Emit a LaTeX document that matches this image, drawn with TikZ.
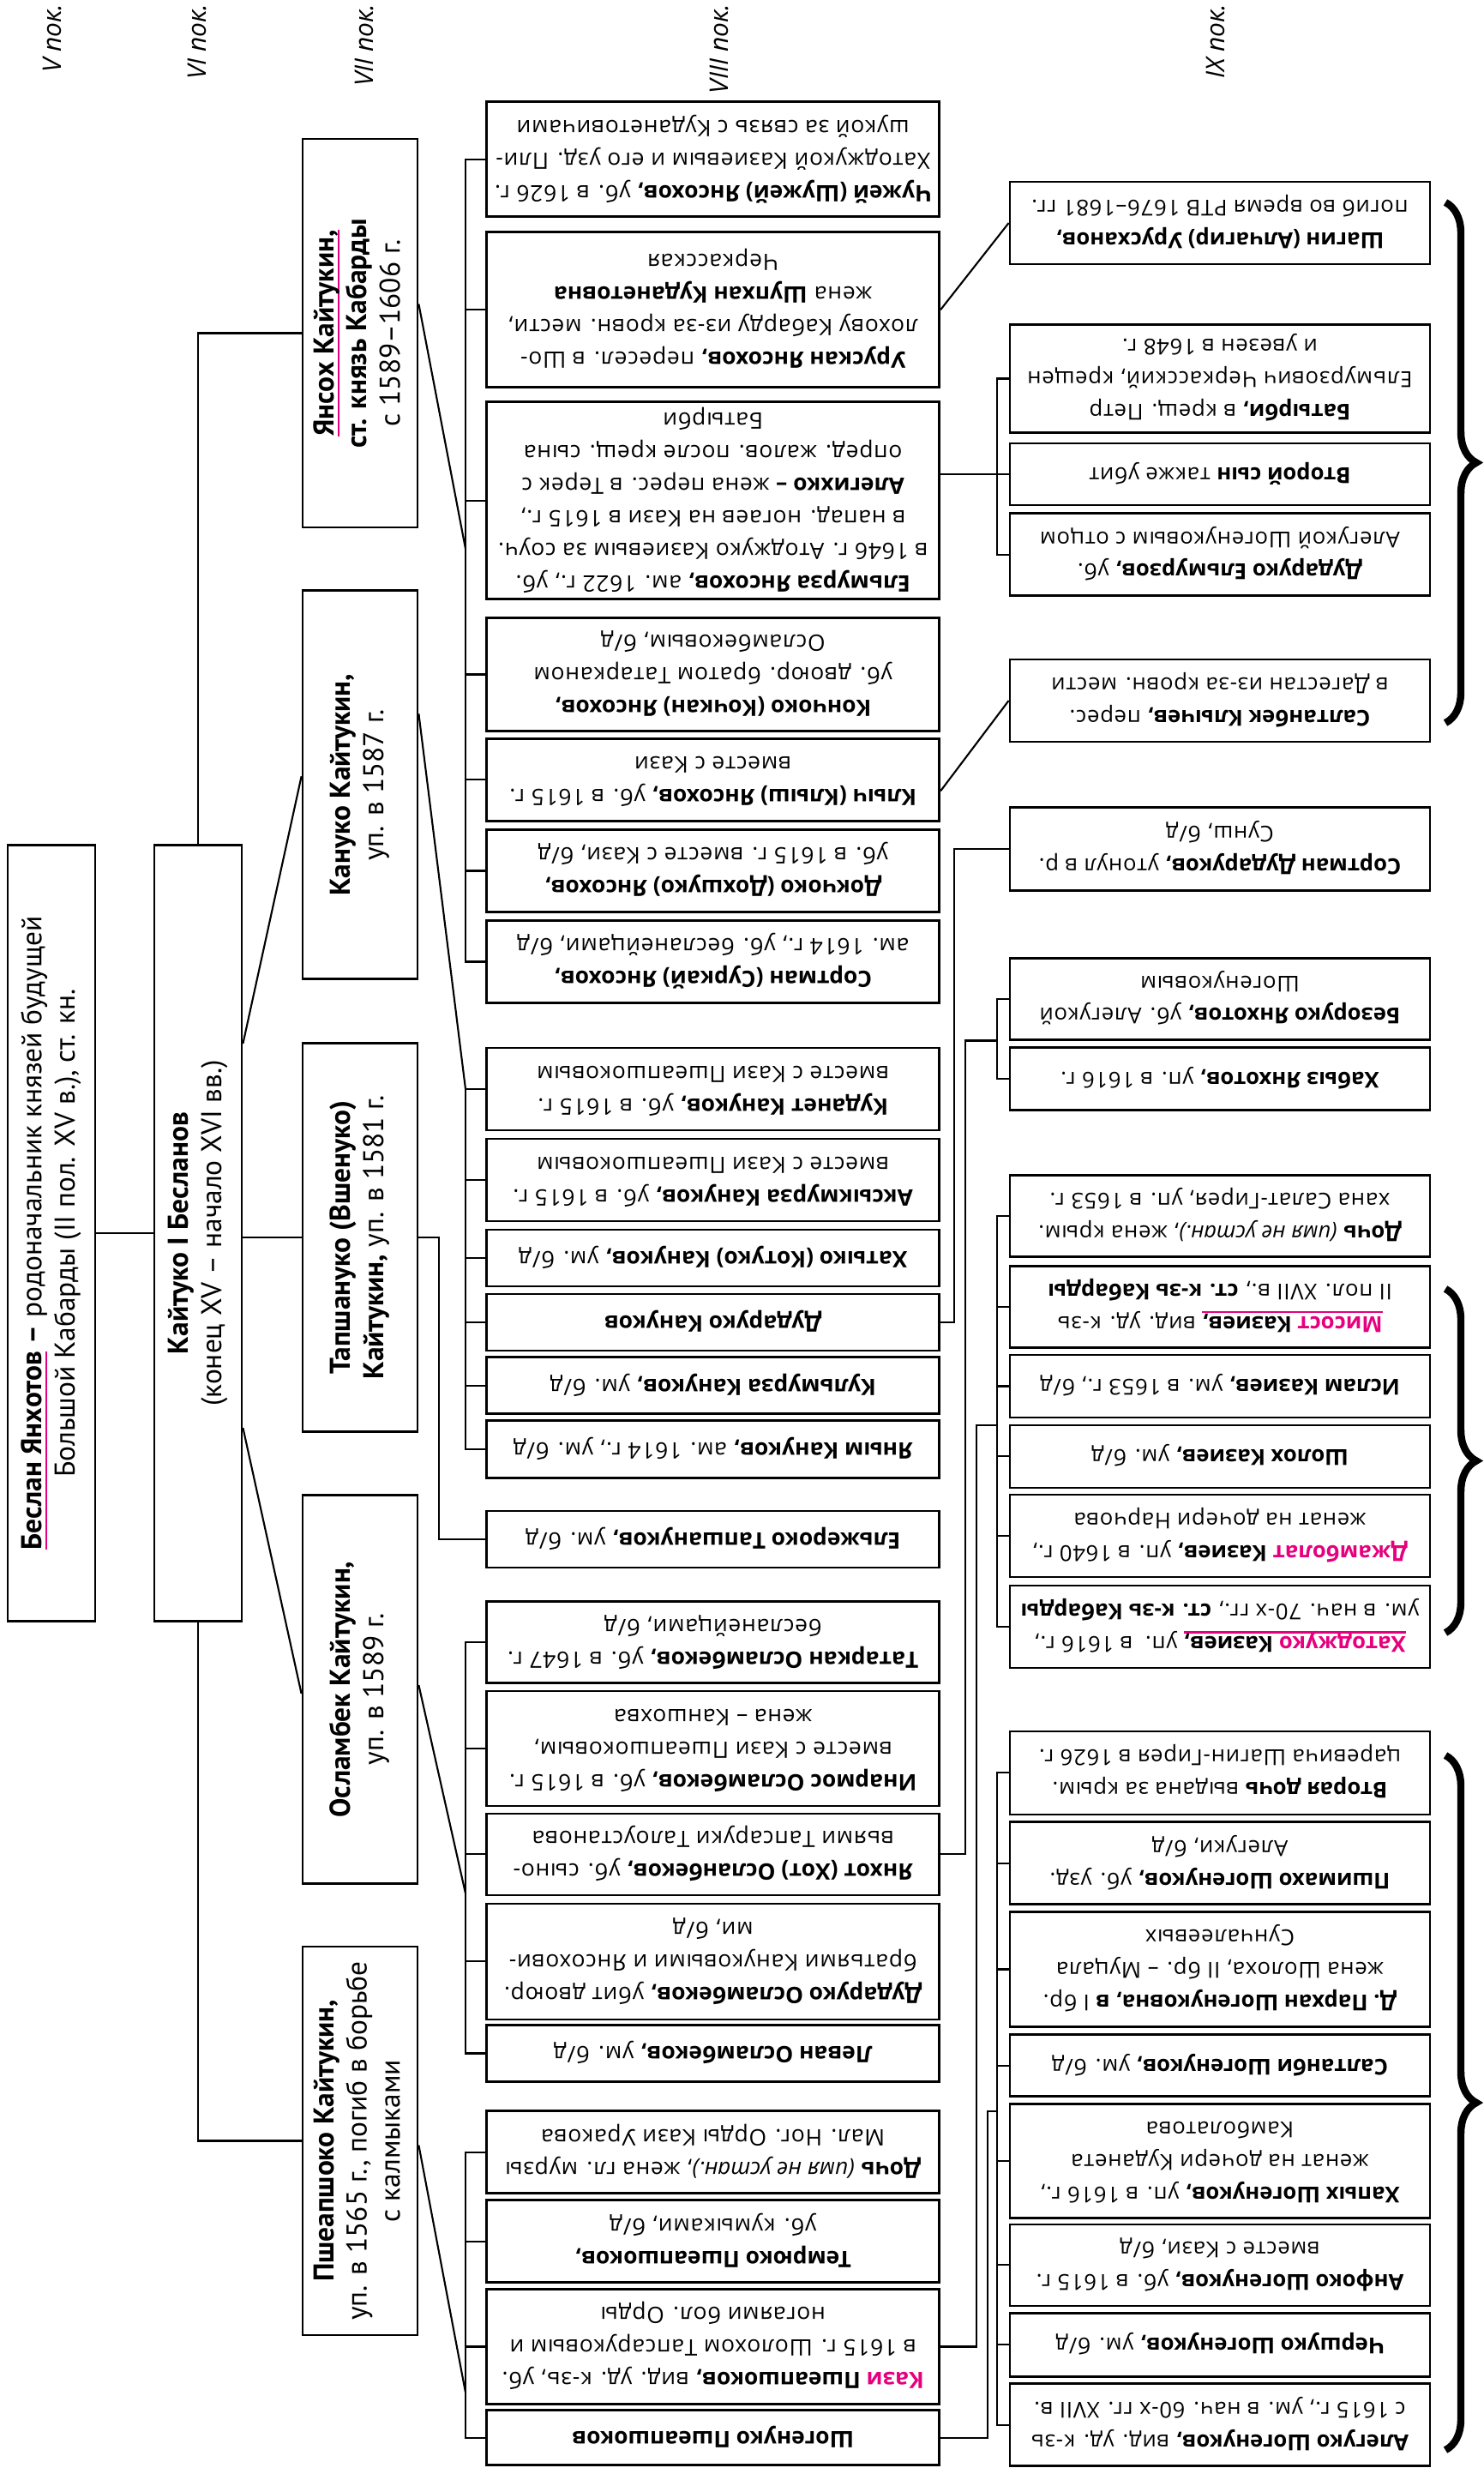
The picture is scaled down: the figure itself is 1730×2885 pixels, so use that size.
\documentclass[tikz,border=0pt]{standalone}
\usepackage{fontspec}
\setmainfont{Open Sans}[UprightFeatures={LetterSpace=3}]
\newfontfamily\condfont{PT Sans}
\usepackage{graphicx}
\usepackage{xcolor}
\usetikzlibrary{decorations.pathreplacing}
\definecolor{kpink}{RGB}{230,0,126}

\newcommand{\pink}[1]{\textcolor{kpink}{#1}}
\newcommand{\pul}[2][2pt]{\setbox0\hbox{#2}\rlap{\color{kpink}\rule[-#1]{\wd0}{0.7pt}}\box0}
\newcommand{\flip}[1]{\rotatebox{180}{\begin{tabular}{@{}c@{}}#1\end{tabular}}}
\newcommand{\turn}[1]{\rotatebox{90}{\begin{tabular}{@{}c@{}}#1\end{tabular}}}

\begin{document}
\begin{tikzpicture}[x=0.1mm, y=-0.1mm]

  \tikzset{
    every node/.style={inner sep=0pt},
    box8/.style={draw, line width=0.8pt, minimum width=52.8mm, font=\fontsize{7.5}{10.8}\selectfont},
    box9/.style={box8, minimum width=49mm, font=\fontsize{7.3}{10.8}\selectfont},
    box7/.style={draw, line width=0.8pt, minimum width=13.4mm, minimum height=45.3mm, font=\condfont\fontsize{9.5}{11}\selectfont},
    rootbox/.style={box7, minimum width=10.2mm, minimum height=90.5mm},
    genlbl/.style={anchor=north, font=\itshape\fontsize{8.5}{9}\selectfont},
    conn/.style={draw, line width=0.6pt},
    brc/.style={decorate, decoration={brace, amplitude=3.6mm}, line width=2.4pt}
  }
  \useasboundingbox (0,0) rectangle (1730,2885);

  % generations
  \node[genlbl] (g5) at (61,4) {\rotatebox{90}{V пок.}};
  \node[genlbl] (g6) at (230,4) {\rotatebox{90}{VI пок.}};
  \node[genlbl] (g7) at (425,4) {\rotatebox{90}{VII пок.}};
  \node[genlbl] (g8) at (839,4) {\rotatebox{90}{VIII пок.}};
  \node[genlbl] (g9) at (1418,4) {\rotatebox{90}{IX пок.}};

  % V, VI
  \node[rootbox] (besl) at (60,1438) {\turn{\pul{\textbf{Беслан Янхотов}}\textbf{ –} родоначальник князей будущей\\Большой Кабарды (II пол. XV в.), ст. кн.}};
  \node[rootbox] (kajt) at (231,1438) {\turn{\textbf{Кайтуко I Бесланов}\\(конец XV – начало XVI вв.)}};

  % VII
  \node[box7] (jans) at (420,388.5) {\turn{\pul{\textbf{Янсох Кайтукин,}}\\\textbf{ст. князь Кабарды}\\с 1589–1606 г.}};
  \node[box7] (kanu) at (420,915.3) {\turn{\textbf{Кануко Кайтукин,}\\уп. в 1587 г.}};
  \node[box7] (tash) at (420,1443) {\turn{\textbf{Тапшануко (Вшенуко)}\\\textbf{Кайтукин,} уп. в 1581 г.}};
  \node[box7] (osla) at (420,1970) {\turn{\textbf{Осламбек Кайтукин,}\\уп. в 1589 г.}};
  \node[box7] (pshe) at (420,2496.5) {\turn{\textbf{Пшеапшоко Кайтукин,}\\уп. в 1565 г., погиб в борьбе\\с калмыками}};

  % VIII
  \node[box8, minimum height=13.4mm] (chuz) at (831.7,185.7) {\flip{\textbf{Чужей (Шужей) Янсохов,} уб. в 1626 г.\\Хатоджукой Казиевым и его узд. Пли-\\шукой за связь с Куданетовичами}};
  \node[box8, minimum height=18.1mm] (urus) at (831.7,361.2) {\flip{\textbf{Урускан Янсохов,} пересел. в Шо-\\лохову Кабарду из-за кровн. мести,\\жена \textbf{Шупхан Куданетовна}\\Черкасская}};
  \node[box8, minimum height=23mm] (elmu) at (831.7,583.9) {\flip{\textbf{Ельмурза Янсохов,} ам. 1622 г., уб.\\в 1646 г. Атоджуко Казиевым за соуч.\\в напад. ногаев на Кази в 1615 г.,\\\textbf{Алегихко –} жена перес. в Терек с\\опред. жалов. после крещ. сына\\Батырби}};
  \node[box8, minimum height=13.2mm] (konc) at (831.7,786.5) {\flip{\textbf{Кончоко (Кочкан) Янсохов,}\\уб. двоюр. братом Татарканом\\Осламбековым, б/д}};
  \node[box8, minimum height=9.6mm] (klyc) at (831.7,909.4) {\flip{\textbf{Клыч (Клыш) Янсохов,} уб. в 1615 г.\\вместе с Кази}};
  \node[box8, minimum height=9.6mm] (dokc) at (831.7,1015.5) {\flip{\textbf{Докчоко (Дохшуко) Янсохов,}\\уб. в 1615 г. вместе с Кази, б/д}};
  \node[box8, minimum height=9.6mm] (sort) at (831.7,1121.5) {\flip{\textbf{Сортман (Суркай) Янсохов,}\\ам. 1614 г., уб. бесланейцами, б/д}};
  \node[box8, minimum height=9.6mm] (kudn) at (831.7,1270) {\flip{\textbf{Куданет Кануков,} уб. в 1615 г.\\вместе с Кази Пшеапшоковым}};
  \node[box8, minimum height=9.6mm] (aksy) at (831.7,1376) {\flip{\textbf{Аксыкмурза Кануков,} уб. в 1615 г.\\вместе с Кази Пшеапшоковым}};
  \node[box8, minimum height=6.6mm] (hatk) at (831.7,1467) {\flip{\textbf{Хатыко (Котуко) Кануков,} ум. б/д}};
  \node[box8, minimum height=6.6mm] (dudk) at (831.7,1542) {\flip{\textbf{Дударуко Кануков}}};
  \node[box8, minimum height=6.6mm] (kulm) at (831.7,1615.7) {\flip{\textbf{Кульмурза Кануков,} ум. б/д}};
  \node[box8, minimum height=6.7mm] (janm) at (831.7,1690) {\flip{\textbf{Яным Кануков,} ам. 1614 г., ум. б/д}};
  \node[box8, minimum height=6.6mm] (elzh) at (831.7,1795) {\flip{\textbf{Ельжероко Тапшануков,} ум. б/д}};
  \node[box8, minimum height=9.5mm] (tatr) at (831.7,1915) {\flip{\textbf{Татаркан Осламбеков,} уб. в 1647 г.\\бесланейцами, б/д}};
  \node[box8, minimum height=13.4mm] (inar) at (831.7,2039) {\flip{\textbf{Инармос Осламбеков,} уб. в 1615 г.\\вместе с Кази Пшеапшоковым,\\жена – Каншохва}};
  \node[box8, minimum height=9.5mm] (janh) at (831.7,2162.4) {\flip{\textbf{Янхот (Хот) Осланбеков,} уб. сыно-\\вьями Тапсаруки Талоустанова}};
  \node[box8, minimum height=13.5mm] (dudo) at (831.7,2287.4) {\flip{\textbf{Дударуко Осламбеков,} убит двоюр.\\братьями Кануковыми и Янсохови-\\ми, б/д}};
  \node[box8, minimum height=6.6mm] (levn) at (831.7,2394.5) {\flip{\textbf{Леван Осламбеков,} ум. б/д}};
  \node[box8, minimum height=9.6mm] (doch) at (831.7,2509.7) {\flip{\textbf{Дочь} \textit{(имя не устан.)}, жена гл. мурзы\\Мал. Ног. Орды Кази Уракова}};
  \node[box8, minimum height=9.6mm] (temr) at (831.7,2613.7) {\flip{\textbf{Темрюко Пшеапшоков,}\\уб. кумыками, б/д}};
  \node[box8, minimum height=13.4mm] (kazi) at (831.7,2736.5) {\flip{\textbf{\pink{Кази} Пшеапшоков,} вид. уд. к-зь, уб.\\в 1615 г. Шолохом Тапсаруковым и\\ногаями бол. Орды}};
  \node[box8, minimum height=6.4mm] (shog) at (831.7,2842.6) {\flip{\textbf{Шогенуко Пшеапшоков}}};

  % IX
  \node[box9, minimum height=9.6mm] (shag) at (1423,260) {\flip{\textbf{Шагин (Алчагир) Урусханов,}\\погиб во время РТВ 1676–1681 гг.}};
  \node[box9, minimum height=12.6mm] (batr) at (1423,441.5) {\flip{\textbf{Батырби,} в крещ. Петр\\Ельмурзович Черкасский, крещен\\и увезен в 1648 г.}};
  \node[box9, minimum height=7.2mm] (vtor) at (1423,553) {\flip{\textbf{Второй сын} также убит}};
  \node[box9, minimum height=9.6mm] (dude) at (1423,646.6) {\flip{\textbf{Дударуко Ельмурзов,} уб.\\Алегукой Шогенуковым с отцом}};
  \node[box9, minimum height=9.6mm] (salt) at (1423,817) {\flip{\textbf{Салтанбек Клычев,} перес.\\в Дагестан из-за кровн. мести}};
  \node[box9, minimum height=9.7mm] (sord) at (1423,990.4) {\flip{\textbf{Сортман Дударуков,} утонул в р.\\Сунш, б/д}};
  \node[box9, minimum height=9.5mm] (bezo) at (1423,1164.6) {\flip{\textbf{Безоруко Янхотов,} уб. Алегукой\\Шогенуковым}};
  \node[box9, minimum height=7.3mm] (habz) at (1423,1258.2) {\flip{\textbf{Хабыз Янхотов,} уп. в 1616 г.}};
  \node[box9, minimum height=9.5mm] (dcr) at (1423,1418.3) {\flip{\textbf{Дочь} \textit{(имя не устан.)}, жена крым.\\хана Салат-Гирея, уп. в 1653 г.}};
  \node[box9, minimum height=9.5mm] (miso) at (1423,1523.7) {\flip{\pul[1.8pt]{\textbf{\pink{Мисост} Казиев,}}\ вид. уд. к-зь\\II пол. XVII в., \textbf{ст. к-зь Кабарды}}};
  \node[box9, minimum height=7.3mm] (isla) at (1423,1616.5) {\flip{\textbf{Ислам Казиев,} ум. в 1653 г., б/д}};
  \node[box9, minimum height=7.3mm] (shol) at (1423,1698.4) {\flip{\textbf{Шолох Казиев,} ум. б/д}};
  \node[box9, minimum height=9.6mm] (dzha) at (1423,1791) {\flip{\textbf{\pink{Джамболат} Казиев,} уп. в 1640 г.,\\женат на дочери Нарчова}};
  \node[box9, minimum height=9.6mm] (hato) at (1423,1897) {\flip{\pul[1.8pt]{\textbf{\pink{Хатоджуко} Казиев,}}\ уп.\ \ в 1616 г.,\\ум. в нач. 70-х гг., \textbf{ст. к-зь Кабарды}}};
  \node[box9, minimum height=9.7mm] (vdoc) at (1423,2067.4) {\flip{\textbf{Вторая дочь} выдана за крым.\\царевича Шагин-Гирея в 1626 г.}};
  \node[box9, minimum height=9.6mm] (pshi) at (1423,2172.7) {\flip{\textbf{Пшимахо Шогенуков,} уб. узд.\\Алегуки, б/д}};
  \node[box9, minimum height=13.4mm] (park) at (1423,2296.5) {\flip{\textbf{Д. Пархан Шогенуковна, в} I бр.\\жена Шолоха, II бр. – Муцала\\Сунчалеевых}};
  \node[box9, minimum height=7.2mm] (salb) at (1423,2408.6) {\flip{\textbf{Салтанби Шогенуков,} ум. б/д}};
  \node[box9, minimum height=13.3mm] (hapy) at (1423,2519.7) {\flip{\textbf{Хапых Шогенуков,} уп. в 1616 г.,\\женат на дочери Куданета\\Камболатова}};
  \node[box9, minimum height=9.5mm] (anfo) at (1423,2641.4) {\flip{\textbf{Анфоко Шогенуков,} уб. в 1615 г.\\вместе с Кази, б/д}};
  \node[box9, minimum height=7.4mm] (cher) at (1423,2734.4) {\flip{\textbf{Чершуко Шогенуков,} ум. б/д}};
  \node[box9, minimum height=9.6mm] (aleg) at (1423,2827.6) {\flip{\textbf{Алегуко Шогенуков,} вид. уд. к-зь\\с 1615 г., ум. в нач. 60-х гг. XVII в.}};

  % points the lines run through
  \coordinate (busa) at (543,640);
  \coordinate (busb) at (543,1270);
  \coordinate (busc) at (512,1443);
  \coordinate (busd) at (543,2208);
  \coordinate (buse) at (543,2790);
  \coordinate (ixbus) at (1163,0);
  \coordinate (lnk1) at (1113,0);
  \coordinate (lnk2) at (1126,0);
  \coordinate (lnk3) at (1139,0);
  \coordinate (lnk4) at (1152,0);
  \coordinate (kin) at (1163,1662);
  \coordinate (sin) at (1163,2462);

  % V -> VI -> VII
  \draw[conn] (besl) -- (kajt);
  \draw[conn] (kajt.north) |- (jans.west);
  \draw[conn] ([yshift=22.1mm]kajt.east) -- ([yshift=1mm]kanu.west);
  \draw[conn] (kajt.east |- tash.west) -- (tash.west);
  \draw[conn] ([yshift=-22.7mm]kajt.east) -- ([yshift=-0.5mm]osla.west);
  \draw[conn] (kajt.south) |- (pshe.west);

  % VII -> VIII
  \draw[conn] ([yshift=3.4mm]jans.east) -- (busa);
  \draw[conn] (chuz.west) -- (chuz.west -| busa) -- (sort.west -| busa) -- (sort.west);
  \draw[conn] (urus.west -| busa) -- (urus.west);
  \draw[conn] (elmu.west -| busa) -- (elmu.west);
  \draw[conn] (konc.west -| busa) -- (konc.west);
  \draw[conn] (klyc.west -| busa) -- (klyc.west);
  \draw[conn] (dokc.west -| busa) -- (dokc.west);

  \draw[conn] ([yshift=8.3mm]kanu.east) -- (busb);
  \draw[conn] (kudn.west) -- (kudn.west -| busb) -- (janm.west -| busb) -- (janm.west);
  \draw[conn] (aksy.west -| busb) -- (aksy.west);
  \draw[conn] (hatk.west -| busb) -- (hatk.west);
  \draw[conn] (dudk.west -| busb) -- (dudk.west);
  \draw[conn] (kulm.west -| busb) -- (kulm.west);

  \draw[conn] (tash.east) -- (busc) |- (elzh.west);

  \draw[conn] ([yshift=0.5mm]osla.east) -- (busd);
  \draw[conn] (tatr.west) -- (tatr.west -| busd) -- (levn.west -| busd) -- (levn.west);
  \draw[conn] (inar.west -| busd) -- (inar.west);
  \draw[conn] (janh.west -| busd) -- (janh.west);
  \draw[conn] (dudo.west -| busd) -- (dudo.west);

  \draw[conn] ([yshift=-0.5mm]pshe.east) -- (buse);
  \draw[conn] (doch.west) -- (doch.west -| buse) -- (shog.west -| buse) -- (shog.west);
  \draw[conn] (temr.west -| buse) -- (temr.west);
  \draw[conn] (kazi.west -| buse) -- (kazi.west);

  % VIII -> IX
  \draw[conn] (urus.east) -- (shag.west);
  \draw[conn] (elmu.east |- vtor.west) -- (vtor.west);
  \draw[conn] (batr.west) -- (batr.west -| ixbus) -- (dude.west -| ixbus) -- (dude.west);
  \draw[conn] ([yshift=-1.3mm]klyc.east) -- (salt.west);
  \draw[conn] (dudk.east) -- (dudk.east -| lnk1) |- (sord.west);

  \draw[conn] (janh.east) -- (janh.east -| lnk2) |- (bezo.south -| ixbus);
  \draw[conn] (bezo.west) -- (bezo.west -| ixbus) -- (habz.west -| ixbus) -- (habz.west);

  \draw[conn] (kazi.east) -- (kazi.east -| lnk3) |- (kin);
  \draw[conn] (dcr.west) -- (dcr.west -| ixbus) -- (hato.west -| ixbus) -- (hato.west);
  \draw[conn] (miso.west -| ixbus) -- (miso.west);
  \draw[conn] (isla.west -| ixbus) -- (isla.west);
  \draw[conn] (shol.west -| ixbus) -- (shol.west);
  \draw[conn] (dzha.west -| ixbus) -- (dzha.west);

  \draw[conn] (shog.east) -- (shog.east -| lnk4) |- (sin);
  \draw[conn] (vdoc.west) -- (vdoc.west -| ixbus) -- (aleg.west -| ixbus) -- (aleg.west);
  \draw[conn] (pshi.west -| ixbus) -- (pshi.west);
  \draw[conn] (park.west -| ixbus) -- (park.west);
  \draw[conn] (salb.west -| ixbus) -- (salb.west);
  \draw[conn] (hapy.west -| ixbus) -- (hapy.west);
  \draw[conn] (anfo.west -| ixbus) -- (anfo.west);
  \draw[conn] (cher.west -| ixbus) -- (cher.west);

  % braces
  \draw[brc] (1686,236) -- (1686,843);
  \draw[brc] (1686,1503) -- (1686,1904);
  \draw[brc] (1686,2047) -- (1686,2857);

\end{tikzpicture}
\end{document}
